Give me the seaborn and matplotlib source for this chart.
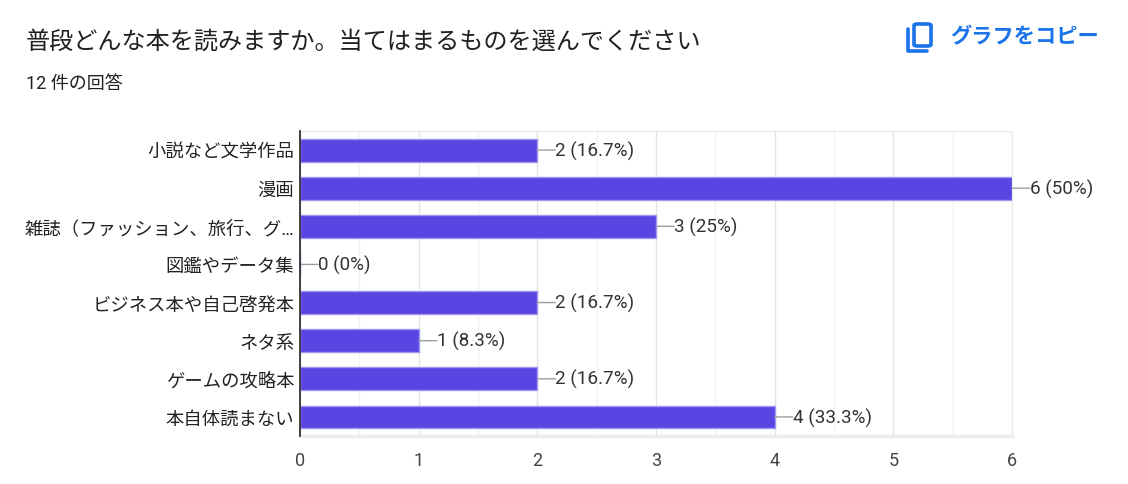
import matplotlib
matplotlib.use("Agg")
import matplotlib.pyplot as plt
import seaborn as sns
import pandas as pd
from matplotlib.ticker import MultipleLocator
from matplotlib.patches import FancyBboxPatch
from matplotlib.lines import Line2D

# data
categories = ['小説など文学作品', '漫画', '雑誌（ファッション、旅行、グ…', '図鑑やデータ集',
              'ビジネス本や自己啓発本', 'ネタ系', 'ゲームの攻略本', '本自体読まない']
counts = [2, 6, 3, 0, 2, 1, 2, 4]
total = 12
x_ticks = [0, 1, 2, 3, 4, 5, 6]

title = '普段どんな本を読みますか。当てはまるものを選んでください'
subtitle = f'{total} 件の回答'

df = pd.DataFrame({'category': categories, 'count': counts})

sns.set_theme(style='white')
plt.rcParams['font.family'] = ['Roboto', 'Noto Sans CJK JP', 'DejaVu Sans']

fig = plt.figure(figsize=(11.28, 4.85), dpi=100)
ax = fig.add_axes([300 / 1128, 1 - 437 / 485, 712 / 1128, 305 / 485])

bar_color = '#5946e2'
sns.barplot(data=df, y='category', x='count', orient='h', color=bar_color,
            saturation=1, width=0.6, edgecolor='#a097f0', linewidth=1, ax=ax, zorder=3)

ax.set_xlim(0, 6)
ax.set_ylim(len(categories) - 0.5, -0.5)
ax.set_xticks(x_ticks)
ax.xaxis.set_minor_locator(MultipleLocator(0.5))
ax.grid(which='major', axis='x', color='#e4e4e4', lw=1, zorder=0)
ax.grid(which='minor', axis='x', color='#f2f2f2', lw=1, zorder=0)
ax.set_axisbelow(True)
ax.set_xlabel('')
ax.set_ylabel('')
ax.tick_params(axis='x', which='both', length=0, pad=11, labelsize=13, labelcolor='#444444')
ax.tick_params(axis='y', length=0, pad=4, labelsize=13.2, labelcolor='#222222')

for s in ['top', 'right']:
    ax.spines[s].set_color('#ececec')
    ax.spines[s].set_linewidth(1)
ax.spines['bottom'].set_color('#ececec')
ax.spines['bottom'].set_linewidth(2.5)
ax.spines['left'].set_color('#333333')
ax.spines['left'].set_linewidth(1.3)
ax.spines['left'].set_zorder(5)

# value labels with a short leader line
for i, c in enumerate(counts):
    pct = c / total * 100
    pct_txt = f'{pct:.1f}'.rstrip('0').rstrip('.')
    ax.annotate('', xy=(c, i), xytext=(13, 0), textcoords='offset points',
                arrowprops=dict(arrowstyle='-', color='#9e9e9e', lw=1, shrinkA=0, shrinkB=0),
                annotation_clip=False)
    ax.annotate(f'{c} ({pct_txt}%)', xy=(c, i), xytext=(13, 0), textcoords='offset points',
                ha='left', va='center', fontsize=13.6, color='#333333', annotation_clip=False)

fig.text(26 / 1128, 1 - 42 / 485, title, fontsize=17.4, color='#202124', va='center', ha='left')
fig.text(26 / 1128, 1 - 84 / 485, subtitle, fontsize=13, color='#202124', va='center', ha='left')

# copy icon + label
blue = '#1a73e8'
W, H = 1128, 485
front = FancyBboxPatch((914 / W, 1 - 47 / H), 17 / W, 22 / H,
                       boxstyle='round,pad=0,rounding_size=0.003',
                       transform=fig.transFigure, fill=False, ec=blue, lw=2.6)
fig.patches.append(front)
fig.lines.append(Line2D([908 / W, 908 / W, 927 / W], [1 - 30 / H, 1 - 52 / H, 1 - 52 / H],
                        transform=fig.transFigure, color=blue, lw=2.6))
fig.text(950 / W, 1 - 37 / H, 'グラフをコピー', fontsize=15.3, fontweight='bold',
         color=blue, va='center', ha='left')

fig.savefig('out.png', dpi=100)
